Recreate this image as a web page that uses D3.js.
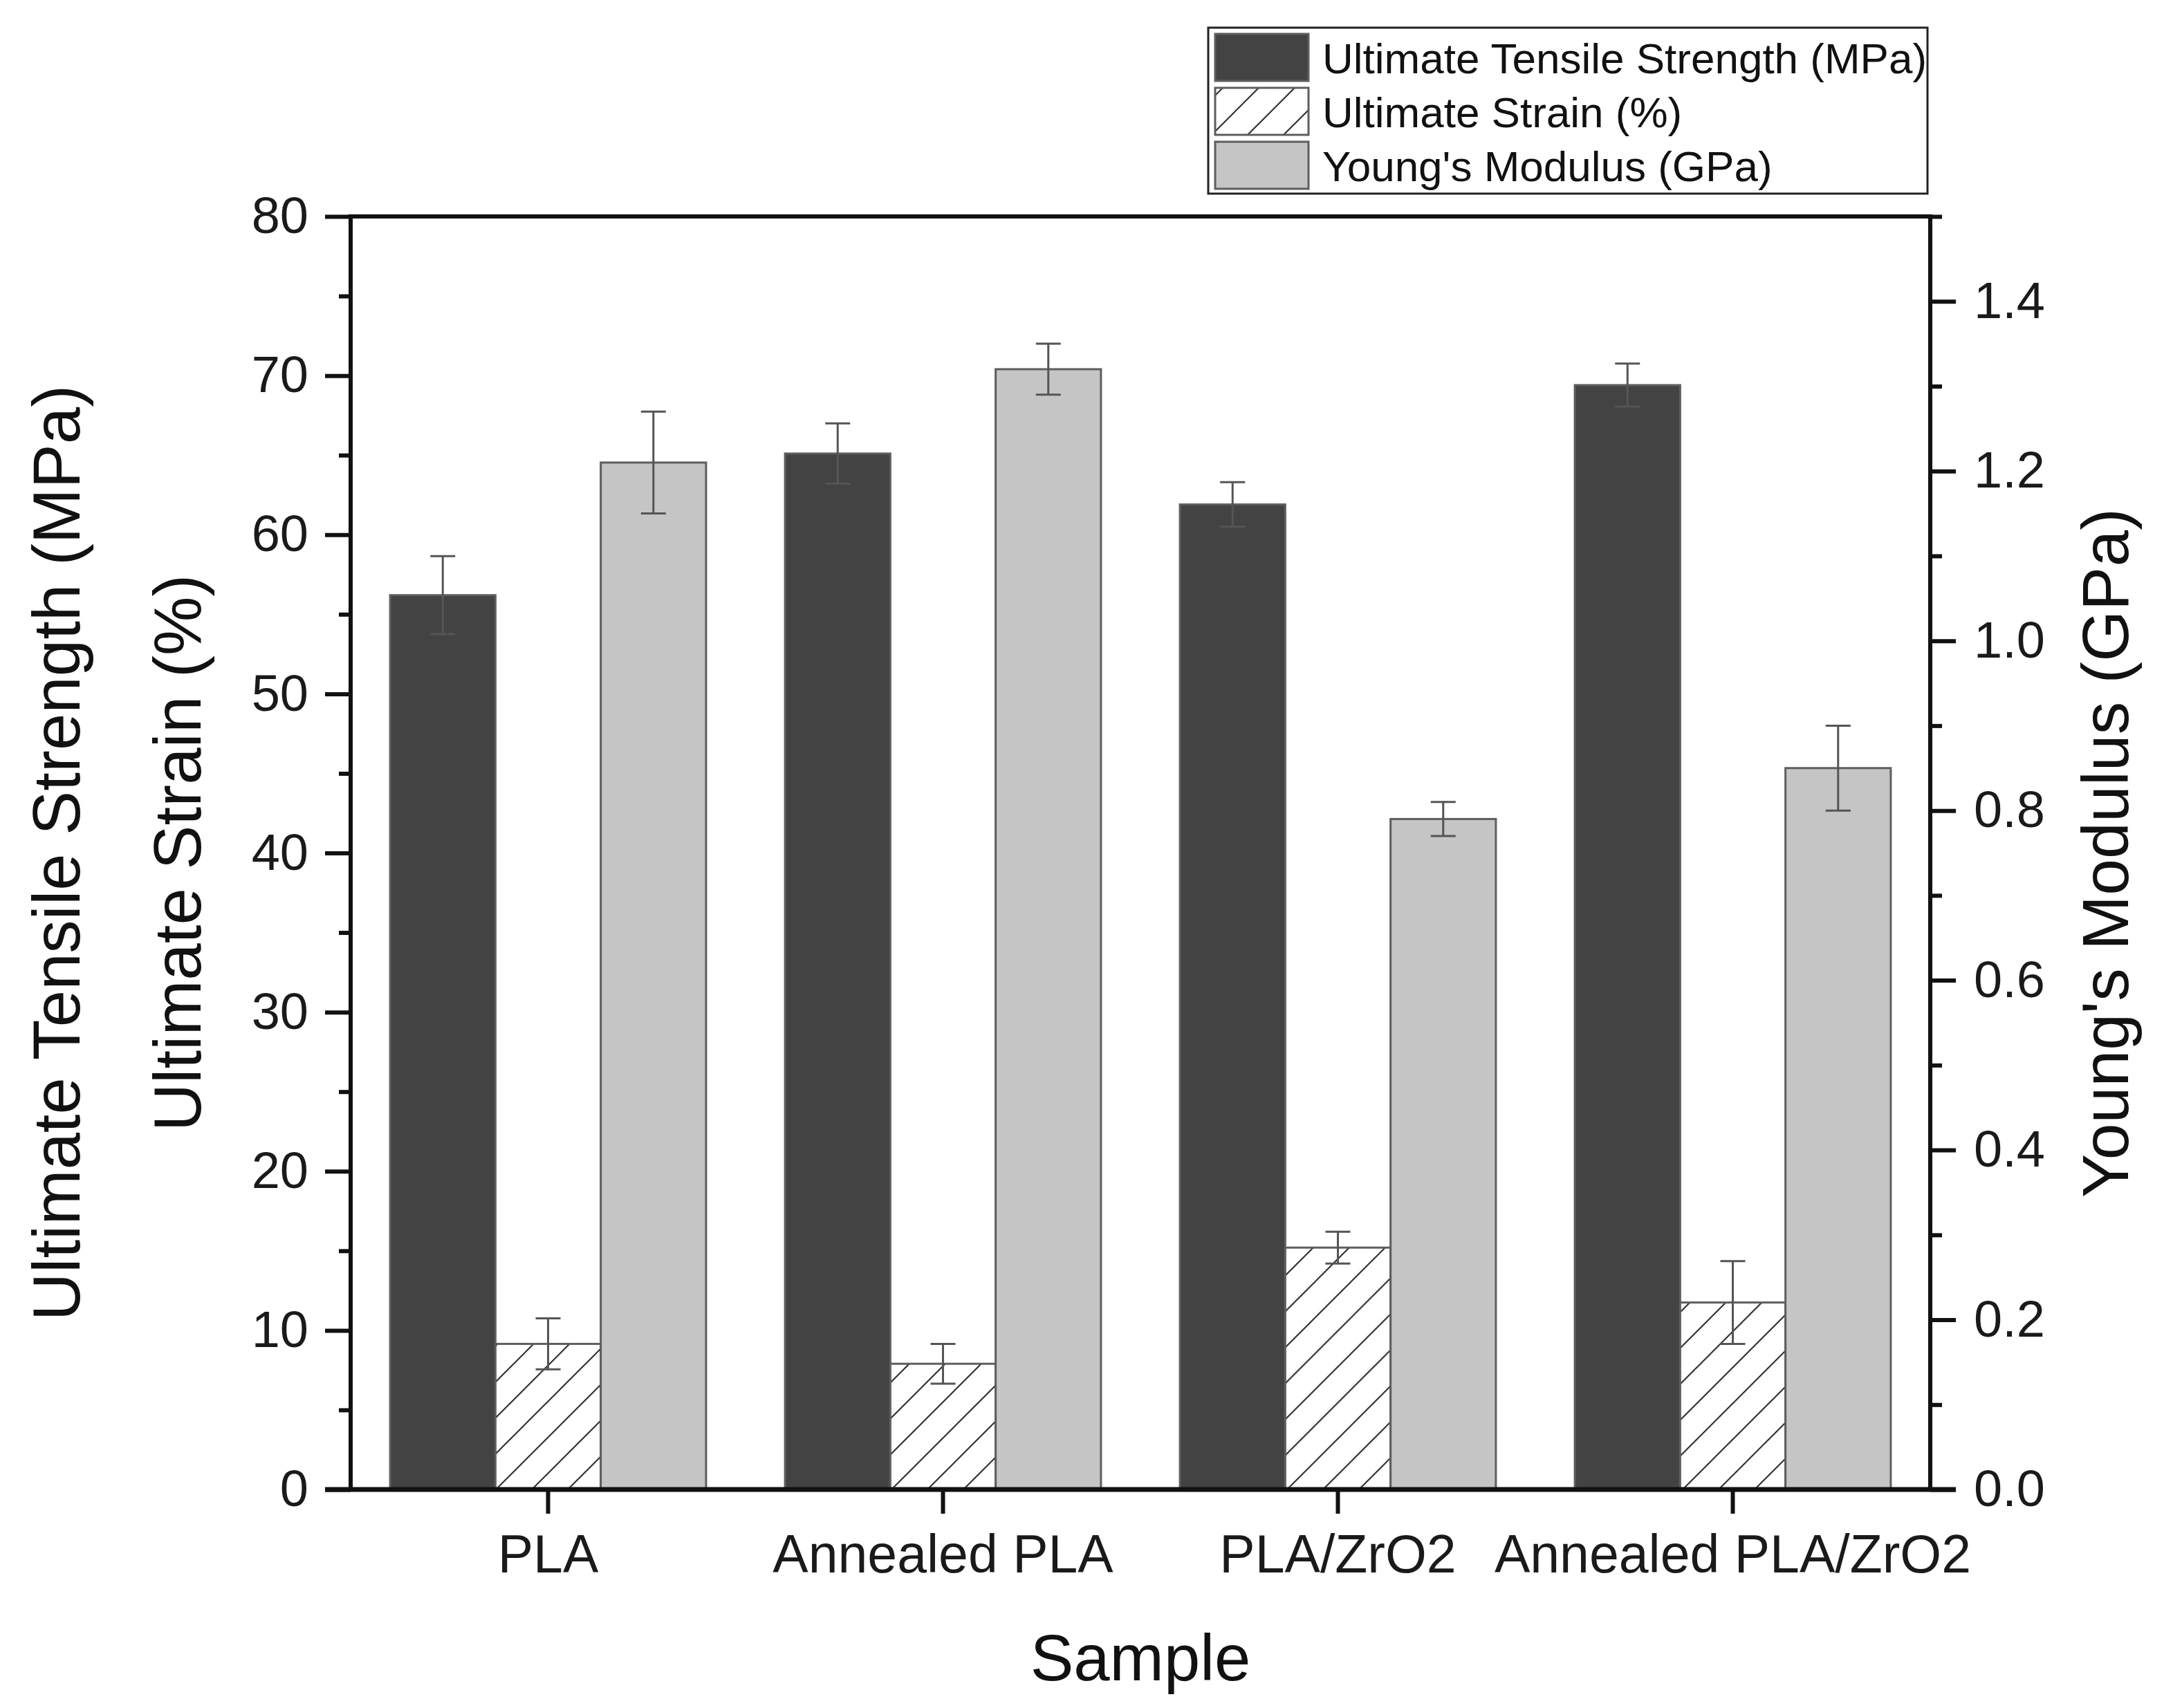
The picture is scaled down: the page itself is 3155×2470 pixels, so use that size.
<!DOCTYPE html>
<html>
<head>
<meta charset="utf-8">
<script src="https://cdn.jsdelivr.net/npm/d3@7.9.0/dist/d3.min.js"></script>
<style>
  body { margin: 0; background: #fff; }
  svg { display: block; font-family: "Liberation Sans", Arial, sans-serif; }
</style>
</head>
<body>
<div id="chart"></div>
<script>
// ===============================
// DATA
// ===============================
const samples = ["PLA", "Annealed PLA", "PLA/ZrO2", "Annealed PLA/ZrO2"];
const seriesNames = ["Ultimate Tensile Strength (MPa)", "Ultimate Strain (%)", "Young's Modulus (GPa)"];

const utsMean = [56.2, 65.1, 61.9, 69.4];
const utsErr = [2.45, 1.9, 1.4, 1.35];
const strainMean = [9.15, 7.9, 15.2, 11.75];
const strainErr = [1.6, 1.25, 1.0, 2.6];
const modulusMean = [1.21, 1.32, 0.79, 0.85];
const modulusErr = [0.06, 0.03, 0.02, 0.05];

const leftTicks = [0, 10, 20, 30, 40, 50, 60, 70, 80];
const rightTicks = [0, 0.2, 0.4, 0.6, 0.8, 1.0, 1.2, 1.4];

// ===============================
// LAYOUT
// ===============================
const width = 3155, height = 2470;
const plot = { left: 507, right: 2791, top: 313, bottom: 2154 };
const font = "Liberation Sans, Arial, sans-serif";

const svg = d3.select("#chart").append("svg")
  .attr("width", width)
  .attr("height", height);

const defs = svg.append("defs");
const hatch = defs.append("pattern")
  .attr("id", "hatch")
  .attr("patternUnits", "userSpaceOnUse")
  .attr("x", 11).attr("y", 0)
  .attr("width", 52).attr("height", 52);
hatch.append("rect").attr("width", 52).attr("height", 52).attr("fill", "#fff");
hatch.selectAll("line")
  .data([[0, 52, 52, 0], [-26, 26, 26, -26], [26, 78, 78, 26]])
  .join("line")
  .attr("x1", d => d[0]).attr("y1", d => d[1])
  .attr("x2", d => d[2]).attr("y2", d => d[3])
  .attr("stroke", "#333").attr("stroke-width", 2.2);

// ===============================
// SCALES
// ===============================
const x0 = d3.scaleBand().domain(samples).range([plot.left, plot.right]).padding(0);
const x1 = d3.scaleBand().domain([0, 1, 2]).range([0, x0.bandwidth() * 0.8]);
const yLeft = d3.scaleLinear().domain([0, 80]).range([plot.bottom, plot.top]);
const yRight = d3.scaleLinear().domain([0, 1.5]).range([plot.bottom, plot.top]);

const series = [
  { mean: utsMean, err: utsErr, y: yLeft, fill: "#434343" },
  { mean: strainMean, err: strainErr, y: yLeft, fill: "url(#hatch)" },
  { mean: modulusMean, err: modulusErr, y: yRight, fill: "#c5c5c5" },
];

const bars = [];
series.forEach((s, si) => {
  samples.forEach((name, i) => {
    bars.push({ name, si, mean: s.mean[i], err: s.err[i], y: s.y, fill: s.fill });
  });
});
const groupOffset = x0.bandwidth() * 0.1;
const barX = d => x0(d.name) + groupOffset + x1(d.si);
const barCx = d => barX(d) + x1.bandwidth() / 2;

// ===============================
// BARS
// ===============================
svg.append("g").attr("class", "bars")
  .selectAll("rect")
  .data(bars)
  .join("rect")
  .attr("x", barX)
  .attr("y", d => d.y(d.mean))
  .attr("width", x1.bandwidth())
  .attr("height", d => d.y(0) - d.y(d.mean))
  .attr("fill", d => d.fill)
  .attr("stroke", "#5e5e5e")
  .attr("stroke-width", 3);

// error bars
const eg = svg.append("g").attr("class", "errors")
  .attr("stroke", "#555").attr("stroke-width", 3);
eg.selectAll("line.v").data(bars).join("line").attr("class", "v")
  .attr("x1", barCx).attr("x2", barCx)
  .attr("y1", d => d.y(d.mean + d.err)).attr("y2", d => d.y(d.mean - d.err));
eg.selectAll("line.t").data(bars).join("line").attr("class", "t")
  .attr("x1", d => barCx(d) - 18).attr("x2", d => barCx(d) + 18)
  .attr("y1", d => d.y(d.mean + d.err)).attr("y2", d => d.y(d.mean + d.err));
eg.selectAll("line.b").data(bars).join("line").attr("class", "b")
  .attr("x1", d => barCx(d) - 18).attr("x2", d => barCx(d) + 18)
  .attr("y1", d => d.y(d.mean - d.err)).attr("y2", d => d.y(d.mean - d.err));

// ===============================
// AXES
// ===============================
function styleAxis(g, size) {
  g.select(".domain").remove();
  g.selectAll(".tick line").attr("stroke", "#111").attr("stroke-width", 6);
  g.selectAll(".tick text")
    .attr("fill", "#1a1a1a")
    .attr("font-family", font)
    .attr("font-size", size);
}

// left minor + major
svg.append("g")
  .attr("transform", `translate(${plot.left},0)`)
  .call(d3.axisLeft(yLeft).tickValues(d3.range(5, 80, 10)).tickSize(17).tickFormat(""))
  .call(g => styleAxis(g, 74));
svg.append("g")
  .attr("transform", `translate(${plot.left},0)`)
  .call(d3.axisLeft(yLeft).tickValues(leftTicks).tickSize(37).tickPadding(24).tickFormat(d3.format("d")))
  .call(g => styleAxis(g, 74));

// right minor + major
svg.append("g")
  .attr("transform", `translate(${plot.right},0)`)
  .call(d3.axisRight(yRight).tickValues([0.1, 0.3, 0.5, 0.7, 0.9, 1.1, 1.3, 1.5]).tickSize(17).tickFormat(""))
  .call(g => styleAxis(g, 74));
svg.append("g")
  .attr("transform", `translate(${plot.right},0)`)
  .call(d3.axisRight(yRight).tickValues(rightTicks).tickSize(37).tickPadding(26).tickFormat(d3.format(".1f")))
  .call(g => styleAxis(g, 74));

// bottom
svg.append("g")
  .attr("transform", `translate(0,${plot.bottom})`)
  .call(d3.axisBottom(x0).tickSize(35).tickPadding(30))
  .call(g => styleAxis(g, 77));

// frame
const frame = svg.append("g").attr("stroke", "#111").attr("fill", "none");
frame.append("line").attr("x1", plot.left).attr("x2", plot.right + 3)
  .attr("y1", plot.top).attr("y2", plot.top).attr("stroke-width", 6);
frame.append("line").attr("x1", plot.left).attr("x2", plot.left)
  .attr("y1", plot.top - 3).attr("y2", plot.bottom).attr("stroke-width", 6);
frame.append("line").attr("x1", plot.right).attr("x2", plot.right)
  .attr("y1", plot.top - 3).attr("y2", plot.bottom).attr("stroke-width", 6);
frame.append("line").attr("x1", plot.left - 37).attr("x2", plot.right + 37)
  .attr("y1", plot.bottom).attr("y2", plot.bottom).attr("stroke-width", 7);

// ===============================
// AXIS TITLES
// ===============================
svg.append("text")
  .attr("transform", `translate(115,${(plot.top + plot.bottom) / 2}) rotate(-90)`)
  .attr("text-anchor", "middle").attr("font-size", 96).attr("fill", "#111")
  .text("Ultimate Tensile Strength (MPa)");
svg.append("text")
  .attr("transform", `translate(290,${(plot.top + plot.bottom) / 2}) rotate(-90)`)
  .attr("text-anchor", "middle").attr("font-size", 96).attr("fill", "#111")
  .text("Ultimate Strain (%)");
svg.append("text")
  .attr("transform", `translate(3077,${(plot.top + plot.bottom) / 2}) rotate(-90)`)
  .attr("text-anchor", "middle").attr("font-size", 95).attr("fill", "#111")
  .text("Young's Modulus (GPa)");
svg.append("text")
  .attr("x", (plot.left + plot.right) / 2).attr("y", 2430)
  .attr("text-anchor", "middle").attr("font-size", 94).attr("fill", "#111")
  .text("Sample");

// ===============================
// LEGEND
// ===============================
const legend = svg.append("g").attr("transform", "translate(1747,40)");
legend.append("rect")
  .attr("width", 1040).attr("height", 240)
  .attr("fill", "#fff").attr("stroke", "#222").attr("stroke-width", 3);
const rows = legend.selectAll("g.row")
  .data(seriesNames)
  .join("g").attr("class", "row")
  .attr("transform", (d, i) => `translate(10,${9 + i * 78})`);
rows.append("rect")
  .attr("width", 135).attr("height", 68)
  .attr("fill", (d, i) => series[i].fill)
  .attr("stroke", "#5e5e5e").attr("stroke-width", 3);
rows.append("text")
  .attr("x", 155).attr("y", 57)
  .attr("font-size", 62).attr("fill", "#111")
  .text(d => d);
</script>
</body>
</html>
